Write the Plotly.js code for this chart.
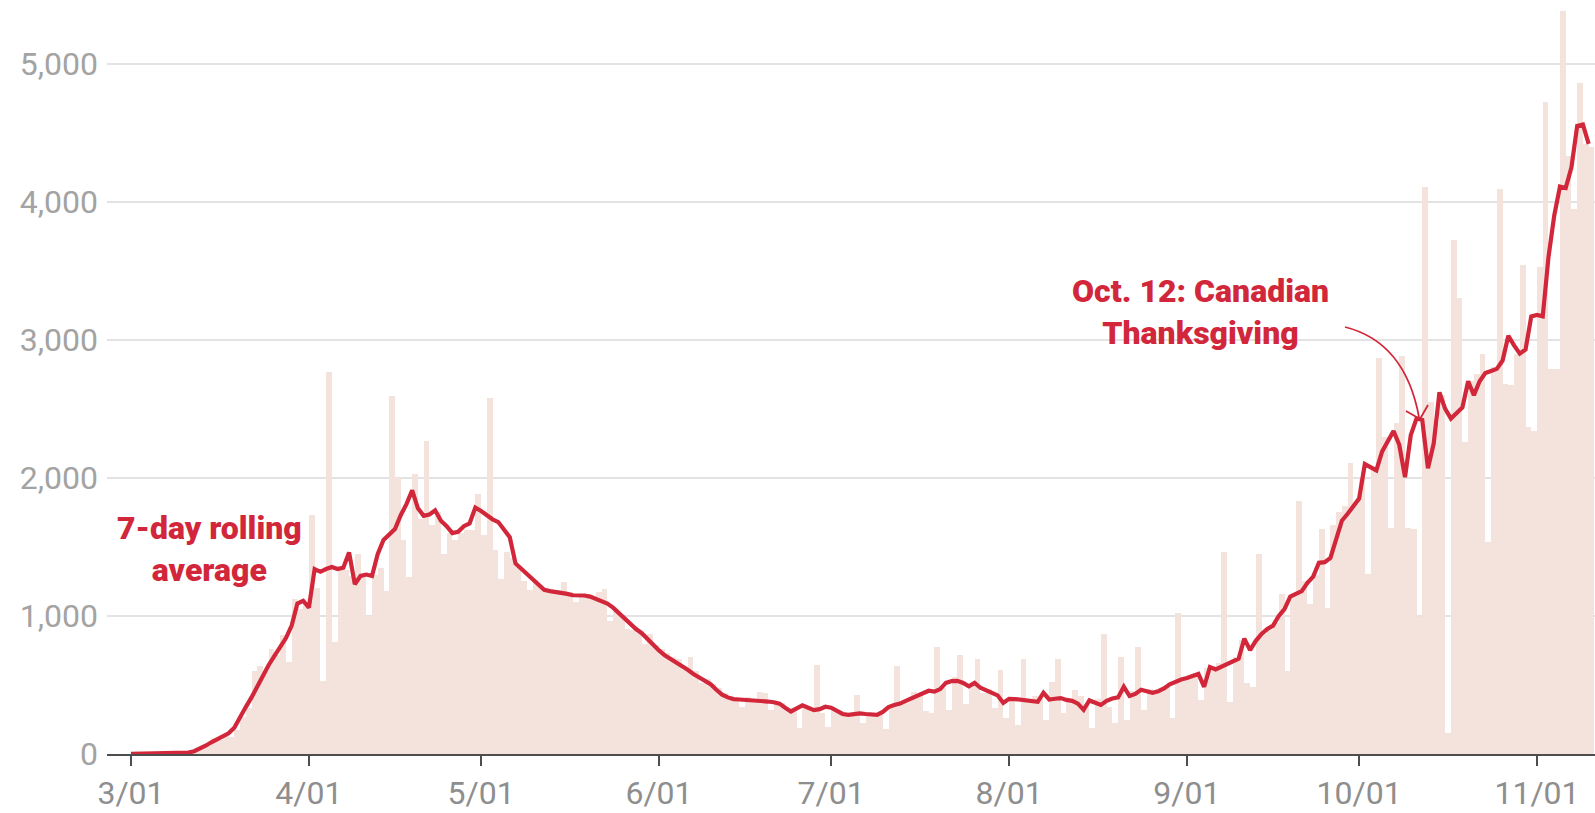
<!DOCTYPE html>
<html>
<head>
<meta charset="utf-8">
<script src="https://cdn.plot.ly/plotly-3.0.1.min.js"></script>
<style>
  html, body { margin: 0; padding: 0; background: #ffffff; }
  #chart { width: 1595px; height: 813px; }
</style>
</head>
<body>
<div id="chart"></div>
<script>
// ---- Data ----
const startDate = '2020-03-01';   // first day of the series

// Daily new cases, Mar 1 .. Nov 10, 2020
const dailyCases = [
  0, 2, 3, 4, 6, 5, 8, 10, 12, 15,
  14, 25, 40, 55, 116, 100, 130, 125, 175, 270,
  330, 600, 640, 600, 760, 720, 860, 665, 1125, 1050,
  1100, 1730, 1200, 530, 2770, 810, 1350, 1330, 1290, 1450,
  1280, 1000, 1300, 1350, 1180, 2590, 2000, 1550, 1280, 2030,
  1700, 2270, 1660, 1750, 1450, 1600, 1550, 1600, 1620, 1620,
  1880, 1590, 2580, 1476, 1270, 1465, 1420, 1355, 1250, 1185,
  1260, 1210, 1180, 1170, 1190, 1245, 1170, 1100, 1150, 1160,
  1140, 1170, 1197, 967, 1050, 1000, 909, 900, 880, 798,
  872, 790, 760, 730, 700, 690, 607, 703, 600, 511,
  540, 510, 480, 440, 410, 400, 342, 410, 400, 450,
  439, 320, 375, 370, 320, 330, 186, 340, 330, 644,
  300, 198, 320, 300, 290, 285, 427, 222, 300, 290,
  300, 180, 340, 640, 380, 400, 450, 430, 310, 300,
  776, 480, 320, 560, 720, 360, 500, 690, 440, 470,
  330, 607, 260, 400, 209, 685, 400, 420, 400, 246,
  523, 685, 300, 390, 463, 420, 360, 190, 400, 872,
  342, 222, 700, 246, 460, 776, 318, 470, 460, 450,
  500, 258, 1020, 540, 560, 590, 390, 620, 640, 660,
  1465, 378, 700, 824, 511, 486, 1451, 870, 900, 950,
  1160, 600, 1150, 1835, 1250, 1090, 1300, 1630, 1060, 1660,
  1750, 1800, 2110, 1812, 2000, 1306, 2077, 2870, 2300, 1635,
  2400, 2884, 1640, 1630, 990, 4110, 2550, 2400, 2600, 155,
  3727, 3300, 2257, 2700, 2750, 2900, 1535, 2800, 4090, 2680,
  2670, 2900, 3540, 2370, 2340, 3525, 4725, 2790, 2790, 5380,
  4335, 3945, 4860, 4420, 4400
];

// 7-day rolling average, same days
const rollingAvg = [
  1, 2, 2, 3, 4, 5, 5, 6, 8, 10,
  10, 20, 38, 60, 85, 105, 122, 150, 190, 270,
  340, 410, 490, 570, 645, 710, 775, 840, 930, 1090,
  1110, 1060, 1340, 1320, 1340, 1355, 1340, 1350, 1460, 1230,
  1290, 1300, 1290, 1450, 1550, 1590, 1630, 1730, 1810, 1910,
  1780, 1725, 1735, 1765, 1690, 1650, 1600, 1610, 1650, 1670,
  1785, 1760, 1730, 1700, 1680, 1620, 1570, 1380, 1340, 1310,
  1270, 1220, 1190, 1180, 1175, 1170, 1160, 1150, 1150, 1148,
  1140, 1125, 1110, 1090, 1060, 1020, 980, 935, 905, 875,
  830, 785, 750, 715, 690, 665, 635, 610, 580, 555,
  530, 505, 465, 430, 410, 398, 395, 393, 390, 388,
  385, 380, 375, 365, 335, 308, 330, 352, 335, 318,
  325, 342, 335, 308, 290, 284, 292, 294, 290, 284,
  284, 305, 340, 355, 365, 385, 405, 420, 440, 458,
  452, 470, 515, 528, 530, 515, 490, 515, 480, 460,
  445, 425, 370, 400, 398, 392, 390, 385, 378, 443,
  395, 400, 405, 392, 385, 365, 320, 388, 375, 355,
  385, 402, 410, 487, 420, 435, 465, 455, 443, 455,
  475, 505, 525, 540, 550, 565, 580, 487, 630, 612,
  630, 655, 672, 690, 836, 752, 820, 870, 905, 930,
  1000, 1050, 1140, 1160, 1180, 1240, 1285, 1385, 1390, 1420,
  1550, 1690, 1740, 1790, 1850, 2100, 2080, 2055, 2190, 2270,
  2340, 2240, 2005, 2310, 2430, 2420, 2070, 2250, 2620, 2500,
  2430, 2470, 2510, 2700, 2600, 2700, 2760, 2775, 2790, 2850,
  3030, 2960, 2900, 2930, 3170, 3180, 3170, 3600, 3900, 4110,
  4100, 4250, 4550, 4560, 4420
];

// Axis ticks
const xTickDates  = ['2020-03-01','2020-04-01','2020-05-01','2020-06-01','2020-07-01','2020-08-01','2020-09-01','2020-10-01','2020-11-01'];
const xTickLabels = ['3/01','4/01','5/01','6/01','7/01','8/01','9/01','10/01','11/01'];
const yTickValues = [0, 1000, 2000, 3000, 4000, 5000];

// Annotation texts
const avgLabel = '7-day rolling<br>average';
const thanksLabel = 'Oct. 12: Canadian<br>Thanksgiving';

// ---- Build date categories ----
function dayString(i) {
  const p = startDate.split('-').map(Number);
  const d = new Date(Date.UTC(p[0], p[1] - 1, p[2] + i));
  return d.toISOString().slice(0, 10);
}
const dates = dailyCases.map((_, i) => dayString(i));

// ---- Styling ----
const RED = '#d2273a';
const BAR = '#f4e3dd';
const FONT = 'Roboto, "Open Sans", Arial, sans-serif';

// plot area in pixels (for paper-coordinate helpers)
const M = { l: 107, r: 0, t: 0, b: 59 };
const W = 1595, H = 813;
const PW = W - M.l - M.r, PH = H - M.t - M.b;
const px = x => (x - M.l) / PW;
const py = y => (H - M.b - y) / PH;

const DAY_MS = 86400000;

const traces = [
  {
    type: 'bar',
    x: dates,
    y: dailyCases,
    marker: { color: BAR, line: { width: 0 } },
    width: DAY_MS,
    offset: 0,
    hoverinfo: 'x+y'
  },
  {
    type: 'scatter',
    mode: 'lines',
    x: dates,
    y: rollingAvg,
    line: { color: RED, width: 4.2, shape: 'linear' },
    hoverinfo: 'x+y'
  }
];

// curved arrow (quadratic) + open arrowhead, in paper coordinates
const arrowPath =
  'M ' + px(1345) + ',' + py(327) +
  ' Q ' + px(1405) + ',' + py(342) + ' ' + px(1419) + ',' + py(417) +
  ' M ' + px(1406) + ',' + py(411) + ' L ' + px(1420) + ',' + py(419) + ' L ' + px(1428) + ',' + py(405);

const layout = {
  width: W,
  height: H,
  margin: M,
  paper_bgcolor: '#ffffff',
  plot_bgcolor: '#ffffff',
  showlegend: false,
  bargap: 0,
  font: { family: FONT },
  xaxis: {
    type: 'date',
    range: ['2020-02-25 19:40', '2020-11-11 02:30'],
    tickmode: 'array',
    tickvals: xTickDates,
    ticktext: xTickLabels,
    ticks: 'outside',
    ticklen: 10,
    tickwidth: 2,
    tickcolor: '#4d4d4d',
    ticklabelstandoff: 0,
    showline: true,
    linecolor: '#4d4d4d',
    linewidth: 2,
    showgrid: false,
    zeroline: false,
    tickfont: { family: FONT, size: 32, color: '#8e8e8e' },
    fixedrange: true
  },
  yaxis: {
    range: [0, 5462],
    tickmode: 'array',
    tickvals: yTickValues,
    tickformat: ',',
    showgrid: true,
    gridcolor: '#e3e3e3',
    gridwidth: 1.5,
    zeroline: false,
    showline: false,
    ticks: '',
    ticklabelstandoff: 8,
    tickfont: { family: FONT, size: 32, color: '#a3a3a3' },
    fixedrange: true
  },
  shapes: [
    {
      type: 'path',
      xref: 'paper', yref: 'paper',
      path: arrowPath,
      line: { color: RED, width: 1.8 },
      layer: 'above'
    }
  ],
  annotations: [
    {
      xref: 'paper', yref: 'paper',
      x: px(209), y: py(549),
      text: avgLabel,
      showarrow: false,
      xanchor: 'center', yanchor: 'middle',
      align: 'center',
      font: { family: FONT, size: 32, color: RED, weight: 900 }
    },
    {
      xref: 'paper', yref: 'paper',
      x: px(1200), y: py(312),
      text: thanksLabel,
      showarrow: false,
      xanchor: 'center', yanchor: 'middle',
      align: 'center',
      font: { family: FONT, size: 32, color: RED, weight: 900 }
    }
  ]
};

Plotly.newPlot('chart', traces, layout, { displayModeBar: false, staticPlot: true });
</script>
</body>
</html>
